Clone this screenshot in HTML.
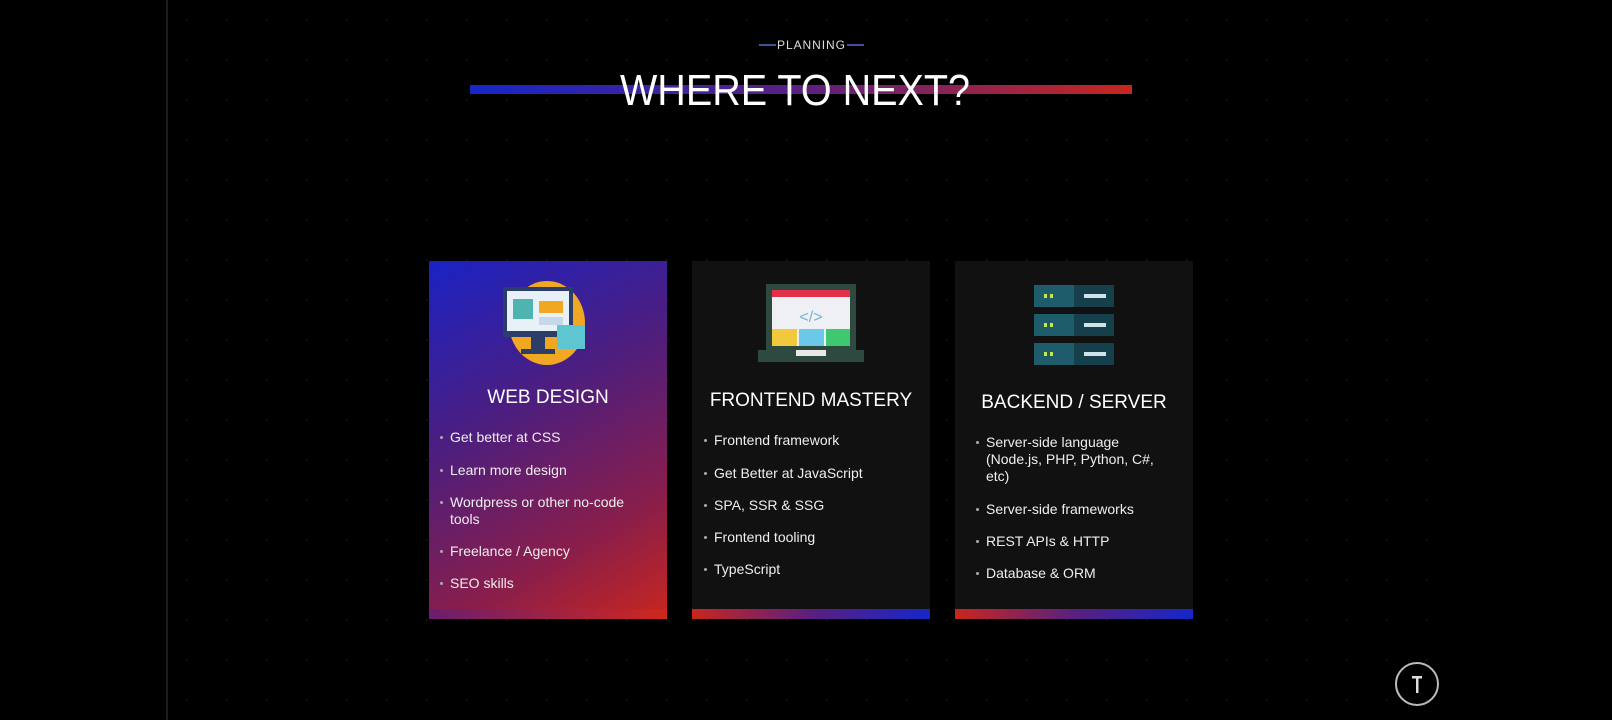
<!DOCTYPE html>
<html><head><meta charset="utf-8"><style>
html,body{margin:0;padding:0;background:#000;}
body{width:1612px;height:720px;position:relative;overflow:hidden;font-family:"Liberation Sans",sans-serif;color:#fff;}
.dots{position:absolute;left:167px;top:0;width:1278px;height:720px;background-image:radial-gradient(circle,#111 1px,transparent 1.3px);background-size:40px 40px;}
.edge{position:absolute;left:166px;top:0;width:2px;height:720px;background:#1c1c1c;}
.card{position:absolute;top:261px;height:358px;width:238px;background:#111;}
.bar{position:absolute;left:0;bottom:0;width:100%;height:10px;}
.h{position:absolute;left:0;width:100%;text-align:center;font-size:19px;color:#fff;}
.li{position:absolute;font-size:14px;line-height:17px;color:#eee;}
.li:before{content:"";position:absolute;left:-10px;top:7px;width:3px;height:3px;border-radius:50%;background:#aaa;}
</style></head><body>
<div class="dots"></div><div class="edge"></div>
<svg style="position:absolute;left:0;top:0" width="1612" height="720">
<defs><linearGradient id="tb" x1="0" x2="1"><stop offset="0" stop-color="#1626c8"/><stop offset="0.5" stop-color="#5a2080"/><stop offset="1" stop-color="#c8261e"/></linearGradient></defs>
<rect x="470" y="85" width="662" height="9" fill="url(#tb)"/>
<line x1="759" y1="45" x2="776" y2="45" stroke="#5a6ad0" stroke-width="1.5"/>
<line x1="847" y1="45" x2="864" y2="45" stroke="#5a6ad0" stroke-width="1.5"/>
<text x="811" y="49" text-anchor="middle" font-family="Liberation Sans" font-size="12" fill="#ddd" textLength="68">PLANNING</text>
<text x="795" y="105" text-anchor="middle" font-family="Liberation Sans" font-size="44" fill="#fff" textLength="350" lengthAdjust="spacingAndGlyphs">WHERE TO NEXT?</text>
<circle cx="1417" cy="684" r="21" fill="none" stroke="#bbb" stroke-width="2"/>
<rect x="1416" y="676" width="2.5" height="17" fill="#ddd"/><rect x="1412" y="676" width="10" height="2.5" fill="#ddd"/>
</svg>

<div class="card" style="left:429px;background:linear-gradient(150deg,#1a22c4 0%,#4d1e7e 40%,#8a1e4a 75%,#c8261e 100%);">
<svg style="position:absolute;left:72px;top:18px" width="94" height="90">
<ellipse cx="46" cy="44" rx="38" ry="42" fill="#f0a823"/>
<rect x="2" y="8" width="70" height="50" fill="#2b3e6a"/><rect x="6" y="12" width="62" height="40" fill="#e8f0f8"/>
<rect x="12" y="20" width="20" height="20" fill="#4fb3b0"/><rect x="38" y="22" width="24" height="12" fill="#f0a823"/>
<rect x="38" y="38" width="24" height="8" fill="#c8d8e8"/>
<rect x="30" y="58" width="14" height="14" fill="#2b3e6a"/><rect x="20" y="70" width="34" height="5" fill="#2b3e6a"/>
<rect x="56" y="46" width="28" height="24" fill="#5ec6d0"/>
</svg>
<div class="h" style="top:126px">WEB DESIGN</div>
<div class="li" style="left:21px;top:168px">Get better at CSS</div>
<div class="li" style="left:21px;top:201px">Learn more design</div>
<div class="li" style="left:21px;top:233px;width:200px">Wordpress or other no-code tools</div>
<div class="li" style="left:21px;top:282px">Freelance / Agency</div>
<div class="li" style="left:21px;top:314px">SEO skills</div>
<div class="bar" style="background:linear-gradient(90deg,#6a1e6e,#d0261e)"></div>
</div>

<div class="card" style="left:692px;">
<svg style="position:absolute;left:66px;top:23px" width="106" height="80">
<rect x="8" y="0" width="90" height="68" fill="#2e4a40"/><rect x="14" y="6" width="78" height="56" fill="#eef0f4"/>
<rect x="14" y="6" width="78" height="7" fill="#e0304a"/>
<text x="53" y="38" text-anchor="middle" font-family="Liberation Sans" font-size="16" fill="#7ab0d8">&lt;/&gt;</text>
<rect x="14" y="45" width="25" height="17" fill="#f2c83c"/><rect x="41" y="45" width="25" height="17" fill="#6cc8e8"/><rect x="68" y="45" width="24" height="17" fill="#3ec870"/>
<rect x="0" y="66" width="106" height="12" fill="#2e4a40"/><rect x="38" y="66" width="30" height="6" fill="#e8e8e8"/>
</svg>
<div class="h" style="top:129px">FRONTEND MASTERY</div>
<div class="li" style="left:22px;top:171px">Frontend framework</div>
<div class="li" style="left:22px;top:204px">Get Better at JavaScript</div>
<div class="li" style="left:22px;top:236px">SPA, SSR &amp; SSG</div>
<div class="li" style="left:22px;top:268px">Frontend tooling</div>
<div class="li" style="left:22px;top:300px">TypeScript</div>
<div class="bar" style="background:linear-gradient(90deg,#c8261e,#5a2080 50%,#1626c8)"></div>
</div>

<div class="card" style="left:955px;">
<svg style="position:absolute;left:79px;top:24px" width="82" height="80">
<g fill="#1e5c6c"><rect x="0" y="0" width="80" height="22"/><rect x="0" y="29" width="80" height="22"/><rect x="0" y="58" width="80" height="22"/></g>
<g fill="#163f4c"><rect x="40" y="0" width="40" height="22"/><rect x="40" y="29" width="40" height="22"/><rect x="40" y="58" width="40" height="22"/></g>
<g fill="#c8e848"><rect x="10" y="9" width="3" height="4"/><rect x="16" y="9" width="3" height="4"/><rect x="10" y="38" width="3" height="4"/><rect x="16" y="38" width="3" height="4"/><rect x="10" y="67" width="3" height="4"/><rect x="16" y="67" width="3" height="4"/></g>
<g fill="#cfe2e8"><rect x="50" y="9" width="22" height="4"/><rect x="50" y="38" width="22" height="4"/><rect x="50" y="67" width="22" height="4"/></g>
</svg>
<div class="h" style="top:131px">BACKEND / SERVER</div>
<div class="li" style="left:31px;top:173px;width:190px">Server-side language (Node.js, PHP, Python, C#, etc)</div>
<div class="li" style="left:31px;top:240px">Server-side frameworks</div>
<div class="li" style="left:31px;top:272px">REST APIs &amp; HTTP</div>
<div class="li" style="left:31px;top:304px">Database &amp; ORM</div>
<div class="bar" style="background:linear-gradient(90deg,#c8261e,#5a2080 50%,#1626c8)"></div>
</div>
</body></html>
